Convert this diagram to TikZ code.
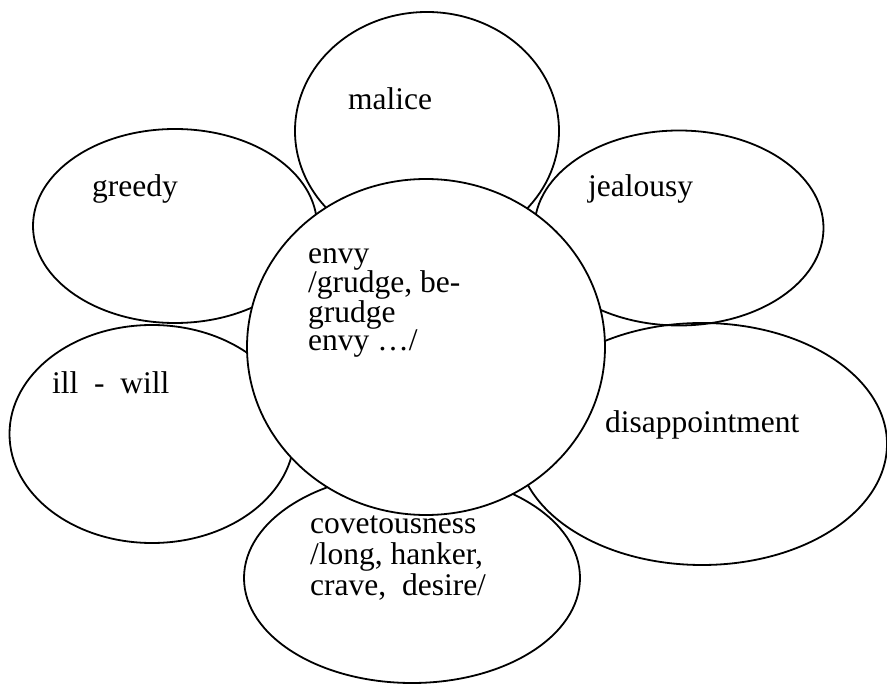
\documentclass[tikz,border=0pt]{standalone}
\usepackage{fontspec}
\setmainfont{Liberation Serif}
\usetikzlibrary{shapes.geometric}
\begin{document}
\begin{tikzpicture}[x=1pt,y=-1pt,
  petal/.style={draw, line width=1.8pt, ellipse, inner sep=0pt},
  txt/.style={anchor=base west, inner sep=0pt, font=\fontsize{31.5}{28.5}\selectfont, align=left}]
\useasboundingbox[fill=white] (0,0) rectangle (887,684);
% petals
\node[petal, minimum width=264, minimum height=238] (malice) at (427,131) {};
\node[petal, minimum width=284, minimum height=194] (greedy) at (175,226) {};
\node[petal, minimum width=289, minimum height=195] (jealousy) at (679,228) {};
\node[petal, minimum width=285, minimum height=218] (illwill) at (152,434) {};
\node[petal, minimum width=370, minimum height=242] (disap) at (702,444) {};
\node[petal, minimum width=336, minimum height=210] (covet) at (412,578) {};
% centre
\node[petal, fill=white, minimum width=358, minimum height=336] (envy) at (426,347) {};
% texts
\node[txt] (tmalice) at (348,110) {malice};
\node[txt] (tgreedy) at (92,197) {greedy};
\node[txt] (tjeal) at (588,197) {jealousy};
\node[txt] (tenvy) at (308,351) {envy\\/grudge, be-\\grudge\\envy …/};
\node[txt] (till) at (52,394) {ill\hspace{0.5em}-\hspace{0.5em}will};
\node[txt] (tdis) at (605,433) {disappointment};
\node[txt, font=\fontsize{31.5}{31}\selectfont] (tcov) at (310,595) {covetousness\\/long, hanker,\\crave,\ \ desire/};
\end{tikzpicture}
\end{document}
